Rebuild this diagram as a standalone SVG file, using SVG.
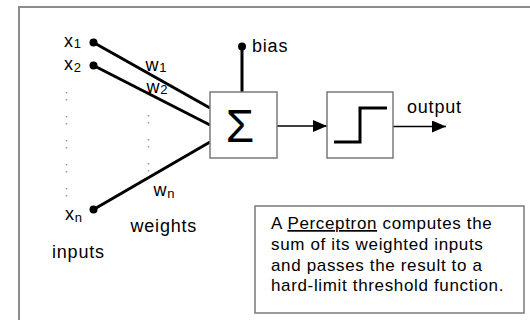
<svg xmlns="http://www.w3.org/2000/svg" width="530" height="320" viewBox="0 0 530 320">
<defs>
<style>
.lbl{font-family:"Liberation Sans",Arial,sans-serif;font-size:18px;letter-spacing:0.8px;fill:#000}
.sub{font-size:13px;letter-spacing:0}
.note{font-family:"Liberation Sans",Arial,sans-serif;font-size:17px;letter-spacing:0.65px;fill:#000}
.box{fill:#fff;stroke:#7a7a7a;stroke-width:1.5}
.wire{stroke:#000;stroke-width:3;fill:none}
.thin{stroke:#000;stroke-width:1.5;fill:none}
.dots{stroke:#999;stroke-width:1.5;stroke-dasharray:1.5 5.5 1.5 15.5;fill:none}
</style>
<marker id="arr" viewBox="0 0 14 12" refX="14" refY="6" markerWidth="14" markerHeight="12" markerUnits="userSpaceOnUse" orient="auto">
<path d="M0,0 L14,6 L0,12 Z" fill="#000"/>
</marker>
</defs>
<rect width="530" height="320" fill="#fff"/>
<path d="M19,330 V7 H540" fill="none" stroke="#8c8c8c" stroke-width="2"/>

<g id="connectors">
<line class="wire" x1="93.5" y1="42.5" x2="210" y2="108"/>
<line class="wire" x1="93.5" y1="65.5" x2="210" y2="125"/>
<line class="wire" x1="93.5" y1="209.5" x2="210" y2="142"/>
<line class="wire" x1="242" y1="46.5" x2="242" y2="92"/>
<line class="thin" x1="277" y1="126" x2="327" y2="126" marker-end="url(#arr)"/>
<line class="thin" x1="393" y1="126.5" x2="446" y2="126.5" marker-end="url(#arr)"/>
<line class="dots" x1="66.5" y1="92" x2="66.5" y2="200"/>
<line class="dots" x1="148.5" y1="115" x2="148.5" y2="176"/>
</g>

<g id="inputs">
<circle cx="93.5" cy="42.5" r="4"/>
<circle cx="93.5" cy="65.5" r="4"/>
<circle cx="93.5" cy="209.5" r="4"/>
<text class="lbl" x="64" y="46.5">x<tspan class="sub" dy="1.5">1</tspan></text>
<text class="lbl" x="64" y="70">x<tspan class="sub" dy="1.5">2</tspan></text>
<text class="lbl" x="65" y="220">x<tspan class="sub" dy="1.5">n</tspan></text>
<text class="lbl" x="52" y="258">inputs</text>
</g>

<g id="weights">
<text class="lbl" x="145.5" y="71">w<tspan class="sub" dy="1">1</tspan></text>
<text class="lbl" x="146.5" y="93">w<tspan class="sub" dy="1">2</tspan></text>
<text class="lbl" x="153.5" y="196">w<tspan class="sub" dy="1.5">n</tspan></text>
<text class="lbl" x="130.5" y="232">weights</text>
</g>

<g id="bias">
<circle cx="242" cy="46.5" r="4"/>
<text class="lbl" x="252" y="52">bias</text>
</g>

<g id="sum">
<rect class="box" x="210" y="92" width="67" height="66"/>
<text x="240" y="142" text-anchor="middle" font-family="'Liberation Sans',Arial,sans-serif" font-size="46">Σ</text>
</g>

<g id="step">
<rect class="box" x="327" y="92" width="66" height="66"/>
<path class="wire" d="M334,142 H360 V108 H387"/>
</g>

<g id="output">
<text class="lbl" x="407" y="113">output</text>
</g>

<g id="note">
<rect class="box" x="255" y="206" width="269" height="107"/>
<text class="note" x="271" y="229">A <tspan text-decoration="underline">Perceptron</tspan> computes the</text>
<text class="note" x="271" y="250">sum of its weighted inputs</text>
<text class="note" x="271" y="270.5">and passes the result to a</text>
<text class="note" x="271" y="291">hard-limit threshold function.</text>
</g>
</svg>
